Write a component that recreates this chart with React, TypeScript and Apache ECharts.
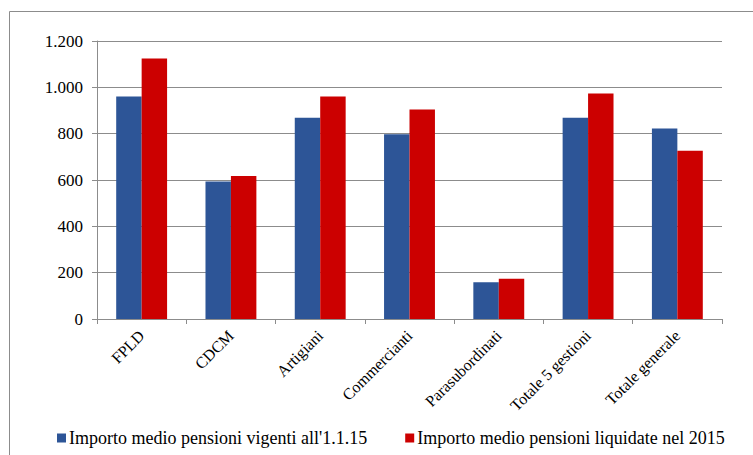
import React, { useEffect, useRef } from "react";
import * as echarts from "echarts";

const categories = [
  "FPLD",
  "CDCM",
  "Artigiani",
  "Commercianti",
  "Parasubordinati",
  "Totale 5 gestioni",
  "Totale generale",
];
const seriesNames = [
  "Importo medio pensioni vigenti all'1.1.15",
  "Importo medio pensioni liquidate nel 2015",
];
const vigenti = [960, 593, 869, 797, 159, 869, 822];
const liquidate = [1125, 617, 960, 904, 174, 973, 726];
const yTicks = { min: 0, max: 1200, interval: 200 };

const FONT = "Liberation Serif";

export default function App() {
  const ref = useRef<HTMLDivElement>(null);
  useEffect(() => {
    if (!ref.current) return;
    const chart = echarts.init(ref.current, undefined, { renderer: "svg" });
    chart.setOption({
      animation: false,
      backgroundColor: "#ffffff",
      textStyle: { fontFamily: FONT, fontSize: 16, color: "#000" },
      graphic: [
        {
          type: "rect",
          shape: { x: 9.5, y: 11.5, width: 800, height: 500 },
          style: { fill: "none", stroke: "#8c8c8c", lineWidth: 1 },
          silent: true,
        },
      ],
      grid: { left: 97, right: 31, top: 41, bottom: 136, containLabel: false },
      legend: {
        data: seriesNames,
        left: 52,
        top: 424,
        icon: "rect",
        itemWidth: 9,
        itemHeight: 9,
        itemGap: 38,
        textStyle: { fontFamily: FONT, fontSize: 18, color: "#000", padding: [0, 0, 0, -2] },
      },
      xAxis: {
        type: "category",
        data: categories,
        axisLine: { lineStyle: { color: "#8c8c8c" } },
        axisTick: { show: true, alignWithLabel: false, length: 5, lineStyle: { color: "#8c8c8c" } },
        axisLabel: {
          rotate: 45,
          margin: 14,
          fontFamily: FONT,
          fontSize: 16,
          color: "#000",
          interval: 0,
        },
      },
      yAxis: {
        type: "value",
        min: yTicks.min,
        max: yTicks.max,
        interval: yTicks.interval,
        axisLine: { show: true, lineStyle: { color: "#8c8c8c" } },
        axisTick: { show: true, length: 5, lineStyle: { color: "#8c8c8c" } },
        splitLine: { lineStyle: { color: "#8c8c8c", width: 1 } },
        axisLabel: {
          margin: 14,
          fontFamily: FONT,
          fontSize: 17,
          color: "#000",
          formatter: (v: number) => v.toString().replace(/\B(?=(\d{3})+(?!\d))/g, "."),
        },
      },
      series: [
        {
          name: seriesNames[0],
          type: "bar",
          data: vigenti,
          barGap: "0%",
          barCategoryGap: "43%",
          itemStyle: { color: "#2D5597" },
        },
        {
          name: seriesNames[1],
          type: "bar",
          data: liquidate,
          itemStyle: { color: "#CC0000" },
        },
      ],
    });
    return () => chart.dispose();
  }, []);
  return (
    <div
      ref={ref}
      style={{ position: "absolute", left: 0, top: 0, width: 753, height: 455 }}
    />
  );
}
